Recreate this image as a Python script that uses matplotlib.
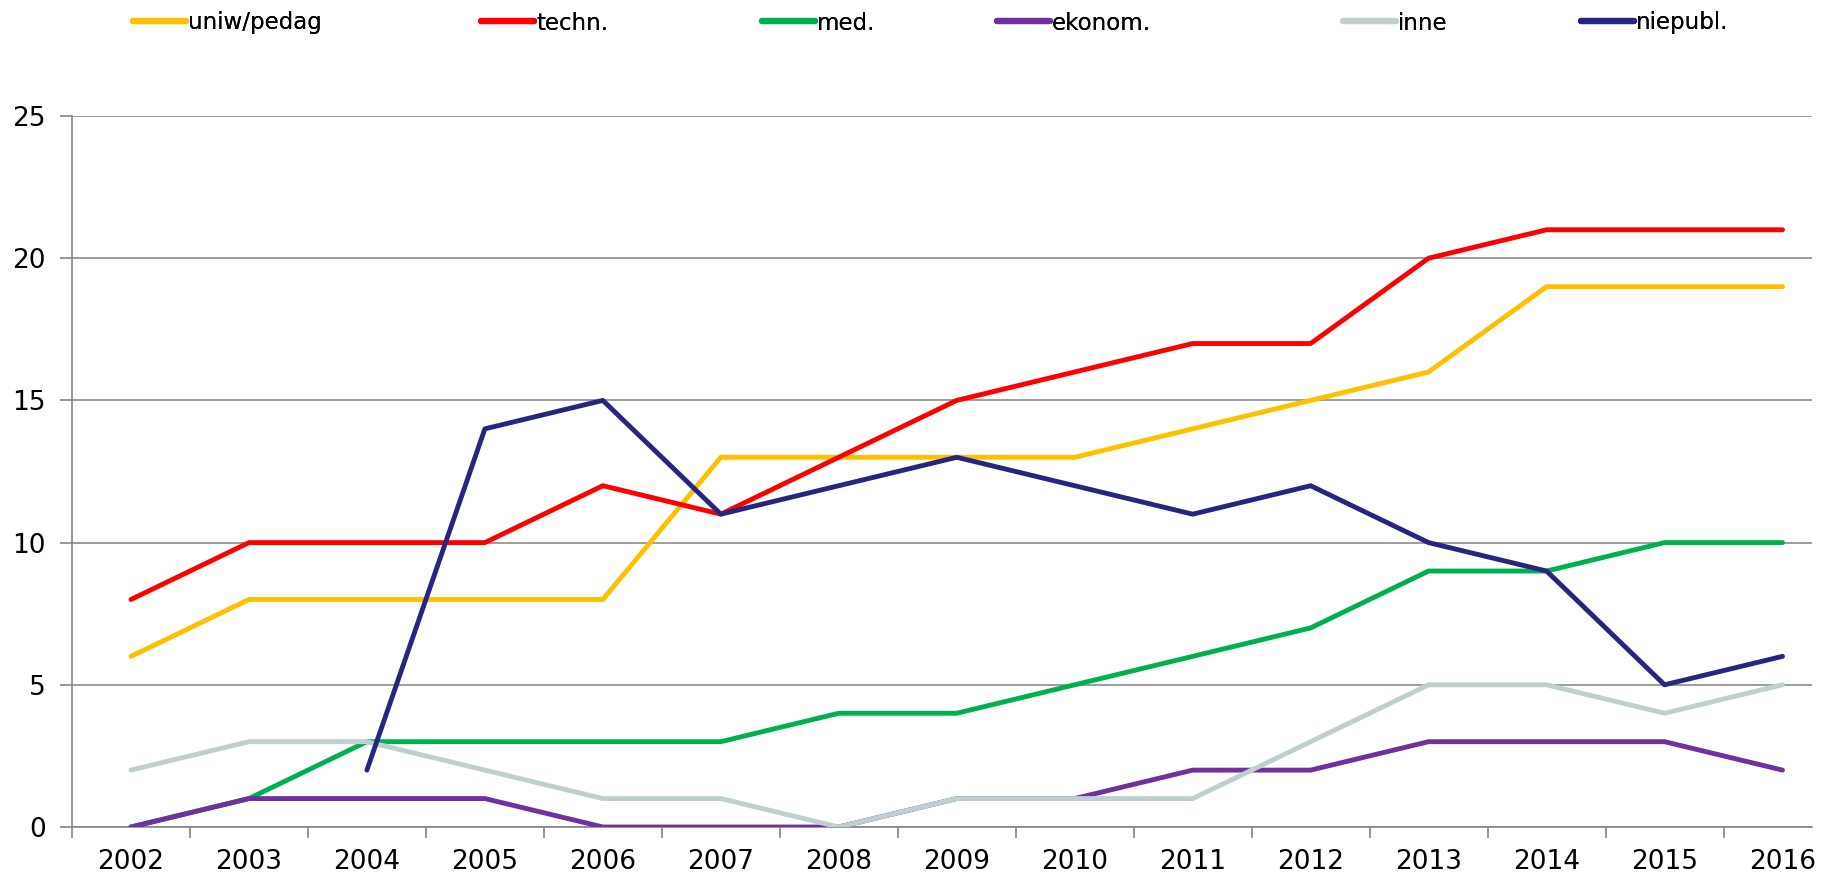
import numpy as np
import matplotlib
matplotlib.use('Agg')
import matplotlib.pyplot as plt
from matplotlib.lines import Line2D

# data
years = list(range(2002, 2017))
uniw = [6, 8, 8, 8, 8, 13, 13, 13, 13, 14, 15, 16, 19, 19, 19]
techn = [8, 10, 10, 10, 12, 11, 13, 15, 16, 17, 17, 20, 21, 21, 21]
med = [0, 1, 3, 3, 3, 3, 4, 4, 5, 6, 7, 9, 9, 10, 10]
ekonom = [0, 1, 1, 1, 0, 0, 0, 1, 1, 2, 2, 3, 3, 3, 2]
inne = [2, 3, 3, 2, 1, 1, 0, 1, 1, 1, 3, 5, 5, 4, 5]
niepubl_years = list(range(2004, 2017))
niepubl = [2, 14, 15, 11, 12, 13, 12, 11, 12, 10, 9, 5, 6]

labels = ['uniw/pedag', 'techn.', 'med.', 'ekonom.', 'inne', 'niepubl.']
colors = ['#FFC000', '#FF0000', '#00B050', '#7030A0', '#BFCFCF', '#262680']

W, H = 1839, 875
fig = plt.figure(figsize=(W / 100, H / 100), dpi=100)
ax = fig.add_axes([72 / W, 1 - 827 / H, (1812 - 72) / W, (827 - 116) / H])

lw = 3.5
ax.plot(years, uniw, color=colors[0], lw=lw, zorder=3, solid_capstyle='round')
ax.plot(years, techn, color=colors[1], lw=lw, zorder=3, solid_capstyle='round')
ax.plot(years, med, color=colors[2], lw=lw, zorder=3, solid_capstyle='round')
ax.plot(years, ekonom, color=colors[3], lw=lw, zorder=4, solid_capstyle='round')
ax.plot(years, inne, color=colors[4], lw=lw, zorder=5, solid_capstyle='round')
ax.plot(niepubl_years, niepubl, color=colors[5], lw=lw, zorder=6, solid_capstyle='round')

ax.set_yticks([0, 5, 10, 15, 20, 25])
ax.set_xticks(years)
ax.set_xticks(np.arange(2001.5, 2016, 1), minor=True)
ax.set_xlim(2001.5, 2016.25)
ax.set_ylim(0, 25)
ax.tick_params(axis='x', which='major', length=0, pad=16, labelsize=19)
ax.tick_params(axis='x', which='minor', length=8, width=1.2, color='#868686', direction='out')
ax.tick_params(axis='y', length=9, width=1.2, color='#868686', direction='out', pad=10, labelsize=19)
ax.yaxis.grid(True, color='#8C8C8C', lw=1.2)
ax.set_axisbelow(True)
for s in ['top', 'right']:
    ax.spines[s].set_visible(False)
for s in ['left', 'bottom']:
    ax.spines[s].set_color('#868686')
    ax.spines[s].set_linewidth(1.2)

# legend entries placed one by one across the top
xs = [133, 481, 762, 997, 1343, 1581]
for lab, col, x in zip(labels, colors, xs):
    h = Line2D([], [], color=col, lw=4.5, solid_capstyle='round')
    lg = fig.legend([h], [lab], loc='center left', bbox_to_anchor=(x / W, 1 - 23 / H),
                    frameon=False, fontsize=16.5, handlelength=2.3, handletextpad=0.1,
                    borderpad=0, borderaxespad=0)
    fig.add_artist(lg)

fig.savefig('out.png', dpi=100)
